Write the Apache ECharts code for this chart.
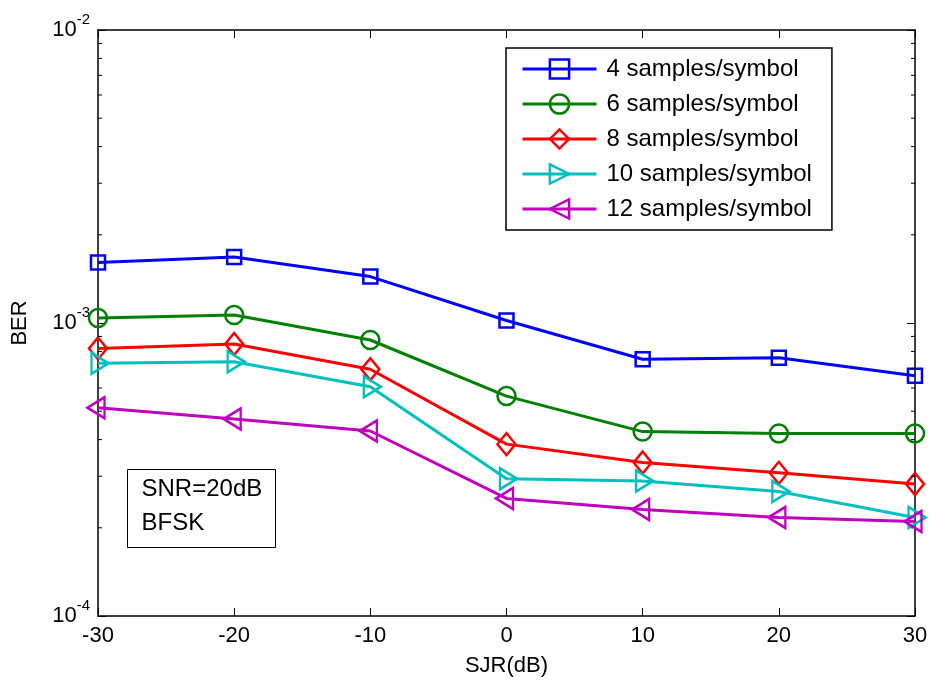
<!DOCTYPE html>
<html>
<head>
<meta charset="utf-8">
<script src="https://cdn.jsdelivr.net/npm/echarts@6/dist/echarts.min.js"></script>
<style>
  html, body { margin: 0; padding: 0; background: #fff; }
  #chart { width: 933px; height: 684px; }
</style>
</head>
<body>
<div id="chart"></div>
<script>
// SJR values on the x axis (dB)
const sjr = [-30, -20, -10, 0, 10, 20, 30];

// BER curves, one per oversampling factor
const ber4  = [1.61e-3, 1.68e-3, 1.44e-3, 1.02e-3, 7.52e-4, 7.61e-4, 6.61e-4];
const ber6  = [1.04e-3, 1.065e-3, 8.75e-4, 5.63e-4, 4.26e-4, 4.20e-4, 4.20e-4];
const ber8  = [8.19e-4, 8.48e-4, 6.95e-4, 3.86e-4, 3.34e-4, 3.08e-4, 2.82e-4];
const ber10 = [7.29e-4, 7.38e-4, 6.06e-4, 2.94e-4, 2.89e-4, 2.66e-4, 2.17e-4];
const ber12 = [5.14e-4, 4.70e-4, 4.28e-4, 2.52e-4, 2.31e-4, 2.17e-4, 2.10e-4];

const seriesNames = ['4 samples/symbol', '6 samples/symbol', '8 samples/symbol',
                     '10 samples/symbol', '12 samples/symbol'];
const seriesData = [ber4, ber6, ber8, ber10, ber12];
const seriesColors = ['#0000ff', '#008000', '#ff0000', '#00bfbf', '#bf00bf'];

// x tick values, y decade exponents
const xTicks = [-30, -20, -10, 0, 10, 20, 30];
const yDecades = [-4, -3, -2];

const FONT = 'Liberation Sans, Arial, Helvetica, sans-serif';

const markers = [
  { symbol: 'rect', size: 14, offset: [0, 0] },
  { symbol: 'circle', size: 18, offset: [0, 0] },
  { symbol: 'diamond', size: [18, 22], offset: [0, 0] },
  { symbol: 'path://M0,0 L10,5 L0,10 Z', size: [17, 21], offset: [2, 0] },
  { symbol: 'path://M10,0 L0,5 L10,10 Z', size: [17, 21], offset: [-2, 0] }
];

const chart = echarts.init(document.getElementById('chart'), null, { renderer: 'canvas' });

const gridBox = { left: 98, right: 18, top: 30, bottom: 68 };

function logLabel(v) {
  const e = Math.round(Math.log10(v));
  return '{b|10}{s|' + e + '}';
}

const yRich = {
  b: { fontSize: 22, fontFamily: FONT, color: '#000' },
  s: { fontSize: 15, fontFamily: FONT, color: '#000', padding: [0, 0, 21, 0] }
};

const option = {
  animation: false,
  backgroundColor: '#fff',
  grid: Object.assign({ containLabel: false }, gridBox),
  xAxis: [
    {
      type: 'value', min: xTicks[0], max: xTicks[xTicks.length - 1], interval: 10,
      position: 'bottom',
      name: 'SJR(dB)', nameLocation: 'middle', nameGap: 39,
      nameTextStyle: { fontSize: 22, fontFamily: FONT, color: '#000' },
      axisLine: { show: true, onZero: false, lineStyle: { color: '#000', width: 1.5 } },
      axisTick: { show: true, inside: true, length: 8, lineStyle: { color: '#000', width: 1 } },
      axisLabel: { fontSize: 22, fontFamily: FONT, color: '#000', margin: 9 },
      splitLine: { show: false }
    },
    {
      type: 'value', min: xTicks[0], max: xTicks[xTicks.length - 1], interval: 10,
      position: 'top',
      axisLine: { show: true, onZero: false, lineStyle: { color: '#000', width: 1.5 } },
      axisTick: { show: true, inside: true, length: 8, lineStyle: { color: '#000', width: 1 } },
      axisLabel: { show: false },
      splitLine: { show: false }
    }
  ],
  yAxis: [
    {
      type: 'log', logBase: 10, min: Math.pow(10, yDecades[0]), max: Math.pow(10, yDecades[2]),
      position: 'left',
      name: 'BER', nameLocation: 'middle', nameGap: 67,
      nameTextStyle: { fontSize: 22, fontFamily: FONT, color: '#000' },
      axisLine: { show: true, onZero: false, lineStyle: { color: '#000', width: 1.5 } },
      axisTick: { show: true, inside: true, length: 8, lineStyle: { color: '#000', width: 1 } },
      axisLabel: { formatter: logLabel, rich: yRich, margin: 8 },
      splitLine: { show: false }
    },
    {
      type: 'log', logBase: 10, min: Math.pow(10, yDecades[0]), max: Math.pow(10, yDecades[2]),
      position: 'right',
      axisLine: { show: true, onZero: false, lineStyle: { color: '#000', width: 1.5 } },
      axisTick: { show: true, inside: true, length: 8, lineStyle: { color: '#000', width: 1 } },
      axisLabel: { show: false },
      splitLine: { show: false }
    }
  ],
  legend: {
    orient: 'vertical',
    left: 506, top: 48,
    padding: [9, 20, 9, 15],
    itemGap: 11,
    itemWidth: 74, itemHeight: 24,
    borderColor: '#000', borderWidth: 1.5,
    backgroundColor: '#fff',
    lineStyle: { width: 3 },
    itemStyle: { borderWidth: 2.5 },
    textStyle: { fontSize: 24, fontFamily: FONT, color: '#000', padding: [0, 0, 0, 5] },
    data: seriesNames,
    z: 10
  },
  series: seriesNames.map((name, i) => ({
    name: name,
    type: 'line',
    xAxisIndex: 0, yAxisIndex: 0,
    data: sjr.map((x, j) => [x, seriesData[i][j]]),
    color: seriesColors[i],
    symbol: markers[i].symbol,
    symbolSize: markers[i].size,
    symbolOffset: markers[i].offset,
    showAllSymbol: true,
    lineStyle: { color: seriesColors[i], width: 3 },
    itemStyle: { color: 'rgba(255,255,255,0)', borderColor: seriesColors[i], borderWidth: 2.5 },
    emphasis: { disabled: true },
    z: 2 + i
  }))
};

chart.setOption(option);

// minor ticks of the log axes (2..9 within each decade), drawn inside on both sides
const minorTicks = [];
const leftX = gridBox.left;
const rightX = 933 - gridBox.right;
for (let d = yDecades[0]; d < yDecades[2]; d++) {
  for (let m = 2; m <= 9; m++) {
    const y = chart.convertToPixel({ yAxisIndex: 0 }, m * Math.pow(10, d));
    minorTicks.push({
      type: 'line', silent: true, z: 5,
      shape: { x1: leftX, y1: y, x2: leftX + 4, y2: y },
      style: { stroke: '#000', lineWidth: 1 }
    });
    minorTicks.push({
      type: 'line', silent: true, z: 5,
      shape: { x1: rightX, y1: y, x2: rightX - 4, y2: y },
      style: { stroke: '#000', lineWidth: 1 }
    });
  }
}

// annotation box with the simulation settings
const noteBox = {
  type: 'group', left: 127, top: 469, z: 20,
  children: [
    { type: 'rect', shape: { x: 0, y: 0, width: 148, height: 78 },
      style: { fill: '#fff', stroke: '#000', lineWidth: 1 } },
    { type: 'text', x: 14, y: 20,
      style: { text: 'SNR=20dB', fontSize: 24, fontFamily: FONT, fill: '#000', verticalAlign: 'middle' } },
    { type: 'text', x: 14, y: 54,
      style: { text: 'BFSK', fontSize: 24, fontFamily: FONT, fill: '#000', verticalAlign: 'middle' } }
  ]
};

chart.setOption({ graphic: minorTicks.concat([noteBox]) });
</script>
</body>
</html>
